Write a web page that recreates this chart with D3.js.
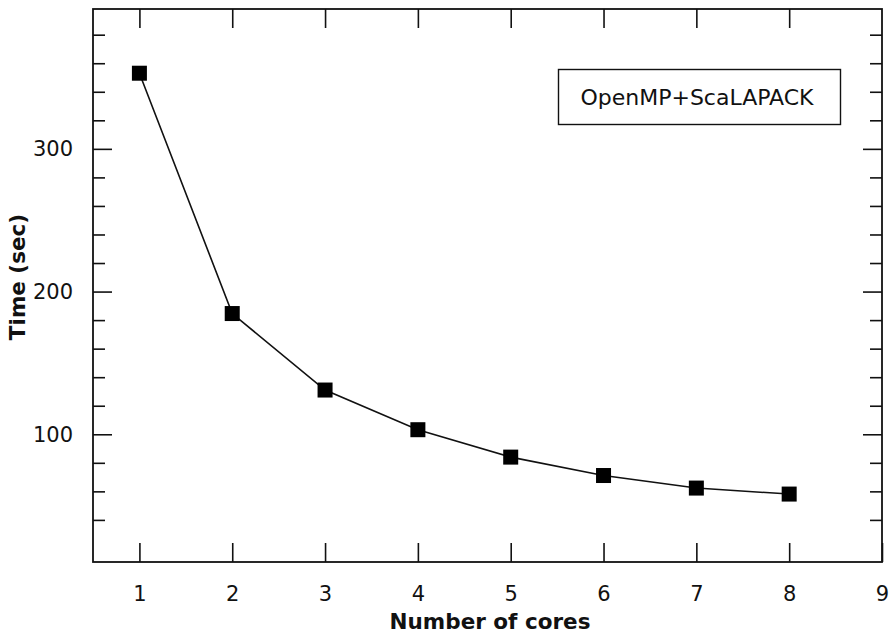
<!DOCTYPE html>
<html>
<head>
<meta charset="utf-8">
<script src="https://cdn.jsdelivr.net/npm/d3@7"></script>
<style>
body { margin:0; background:#fff; }
svg { font-family:"Lucida Grande","DejaVu Sans",sans-serif; }
.tick line { stroke:#111; stroke-width:1.6; }
.title { font-size:21.5px; font-weight:bold; fill:#111; }
</style>
</head>
<body>
<svg id="plot"></svg>
<script>
// cores on x, time in seconds on y
var cores = [1,2,3,4,5,6,7,8]
var times = [353.0,184.6,131.0,103.2,84.0,71.1,62.3,58.1]
var xTicks = [1,2,3,4,5,6,7,8,9]
var yMajor = [100,200,300]
var yMinor = [40,60,80,120,140,160,180,220,240,260,280,320,340,360,380]
var seriesName = "OpenMP+ScaLAPACK"

var screen = {width:889, height:634}
var frame = {left:93, right:882, top:9, bottom:562}

var svg = d3.select("#plot")
    .attr("width",screen.width)
    .attr("height",screen.height)

var xScale = d3.scaleLinear()
    .domain([0.5,9])
    .range([frame.left,frame.right])

var yScale = d3.scaleLinear()
    .domain([10.5,398])
    .range([frame.bottom,frame.top])

var h = frame.bottom-frame.top

//bottom ticks with labels
svg.append("g")
    .attr("transform","translate(0,"+frame.bottom+")")
    .call(d3.axisBottom(xScale).tickValues(xTicks).tickSizeInner(-19)
          .tickSizeOuter(0).tickPadding(24).tickFormat(d3.format("d")))
//top ticks
svg.append("g")
    .attr("transform","translate(0,"+frame.top+")")
    .call(d3.axisTop(xScale).tickValues(cores).tickSizeInner(-19)
          .tickSizeOuter(0).tickFormat(""))

//left ticks, major and minor
svg.append("g")
    .attr("transform","translate("+frame.left+",0)")
    .call(d3.axisLeft(yScale).tickValues(yMajor).tickSizeInner(-19)
          .tickSizeOuter(0).tickPadding(20).tickFormat(d3.format("d")))
svg.append("g")
    .attr("transform","translate("+frame.left+",0)")
    .call(d3.axisLeft(yScale).tickValues(yMinor).tickSizeInner(-12)
          .tickSizeOuter(0).tickFormat(""))
//right ticks
svg.append("g")
    .attr("transform","translate("+frame.right+",0)")
    .call(d3.axisRight(yScale).tickValues(yMajor).tickSizeInner(-19)
          .tickSizeOuter(0).tickFormat(""))
svg.append("g")
    .attr("transform","translate("+frame.right+",0)")
    .call(d3.axisRight(yScale).tickValues(yMinor).tickSizeInner(-12)
          .tickSizeOuter(0).tickFormat(""))

svg.selectAll(".domain").remove()
//d3 puts font attrs on the axis group, so set them on the labels
svg.selectAll(".tick text")
    .style("font-family","'DejaVu Sans',sans-serif")
    .style("font-size","21px")
    .attr("fill","#111")

//the frame
svg.append("rect")
    .attr("x",frame.left)
    .attr("y",frame.top)
    .attr("width",frame.right-frame.left)
    .attr("height",h)
    .attr("fill","none")
    .attr("stroke","#111")
    .attr("stroke-width",1.8)

var points = cores.map(function(c,i){ return {x:c, y:times[i]}; })

var line = d3.line()
    .x(function(d){ return xScale(d.x); })
    .y(function(d){ return yScale(d.y); })

svg.append("path")
    .datum(points)
    .attr("d",line)
    .attr("fill","none")
    .attr("stroke","#111")
    .attr("stroke-width",1.6)

var size = 15
svg.append("g")
    .selectAll("rect")
    .data(points)
    .enter()
    .append("rect")
    .attr("x",function(d){ return xScale(d.x)-size/2; })
    .attr("y",function(d){ return yScale(d.y)-size/2; })
    .attr("width",size)
    .attr("height",size)
    .attr("fill","#000")

//legend
var legend = svg.append("g")
legend.append("rect")
    .attr("x",558.5)
    .attr("y",69.5)
    .attr("width",282)
    .attr("height",55)
    .attr("fill","#fff")
    .attr("stroke","#111")
    .attr("stroke-width",1.4)
legend.append("text")
    .attr("x",697)
    .attr("y",105)
    .attr("text-anchor","middle")
    .style("font-size","22px")
    .attr("fill","#111")
    .text(seriesName)

//axis titles
svg.append("text")
    .classed("title",true)
    .attr("text-anchor","middle")
    .attr("x",490)
    .attr("y",629)
    .text("Number of cores")

svg.append("g")
    .attr("transform","translate(25,277)")
    .append("text")
    .classed("title",true)
    .attr("text-anchor","middle")
    .attr("transform","rotate(-90)")
    .text("Time (sec)")
</script>
</body>
</html>
